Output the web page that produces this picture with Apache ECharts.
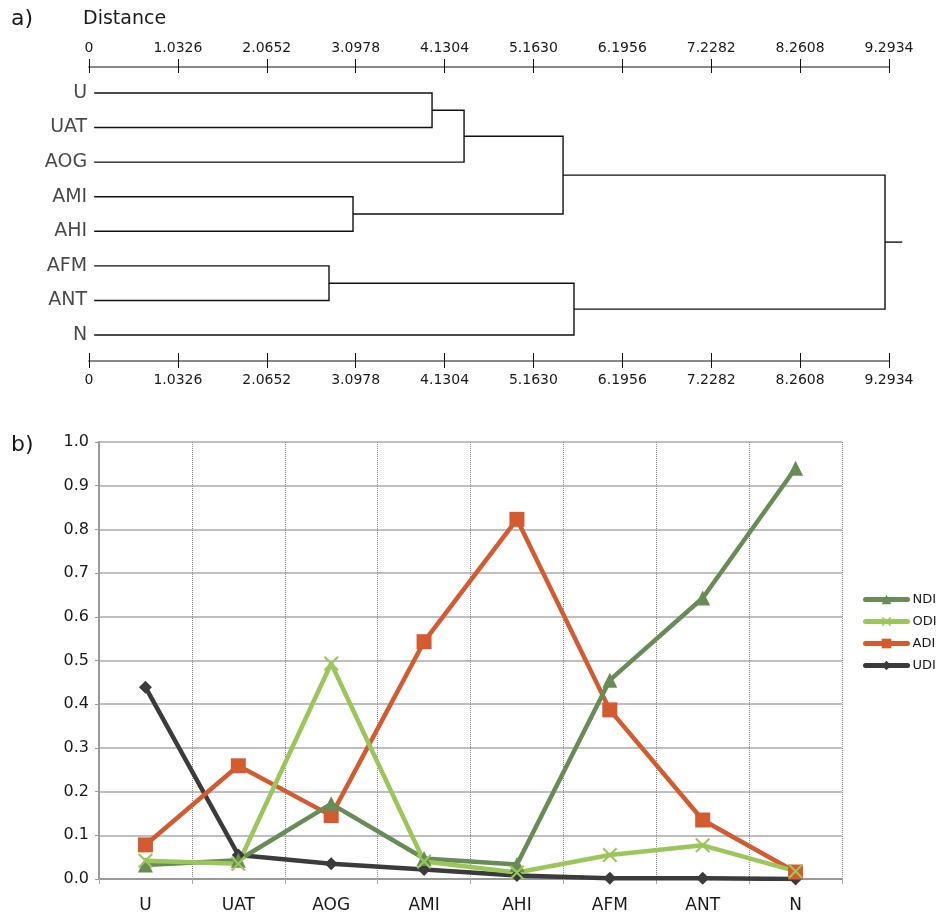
<!DOCTYPE html>
<html>
<head>
<meta charset="utf-8">
<script src="https://cdn.jsdelivr.net/npm/echarts@6/dist/echarts.min.js"></script>
<style>
  html, body { margin:0; padding:0; background:#fff; }
  #chart { width:939px; height:914px; }
</style>
</head>
<body>
<div id="chart"></div>
<script>
// a) dendrogram
const leaves = ['U', 'UAT', 'AOG', 'AMI', 'AHI', 'AFM', 'ANT', 'N'];
// [childA, childB, height]  (mK = result of merge K)
const merges = [
  ['U', 'UAT', 3.985],
  ['m0', 'AOG', 4.357],
  ['AMI', 'AHI', 3.067],
  ['m1', 'm2', 5.507],
  ['AFM', 'ANT', 2.788],
  ['m4', 'N', 5.634],
  ['m3', 'm5', 9.247]
];
const distStep = 1.0326;
const distMax = 9.2934;

// b) index profiles
const categories = ['U', 'UAT', 'AOG', 'AMI', 'AHI', 'AFM', 'ANT', 'N'];
const ndi = [0.032, 0.043, 0.172, 0.047, 0.033, 0.455, 0.643, 0.940];
const odi = [0.042, 0.035, 0.493, 0.040, 0.015, 0.055, 0.077, 0.018];
const adi = [0.078, 0.259, 0.145, 0.543, 0.823, 0.387, 0.135, 0.016];
const udi = [0.439, 0.055, 0.035, 0.022, 0.008, 0.002, 0.002, 0.000];

const LEAF_X = 0.06;     // small gap between labels and leaf lines
const STEM = 0.2;        // root stem length
const txt = '#1a1a1a';
const FONT = 'DejaVu Sans';

// build dendrogram brackets from the merge list
const nodes = {};
leaves.forEach((n, i) => { nodes[n] = { x: LEAF_X, y: i }; });
const brackets = [];
merges.forEach((m, k) => {
  const a = nodes[m[0]], b = nodes[m[1]], h = m[2];
  brackets.push({ coords: [[a.x, a.y], [h, a.y], [h, b.y], [b.x, b.y]] });
  nodes['m' + k] = { x: h, y: (a.y + b.y) / 2 };
});
const root = nodes['m' + (merges.length - 1)];
brackets.push({ coords: [[root.x, root.y], [root.x + STEM, root.y]] });

const distLabel = v => v === 0 ? '0' : v.toFixed(4);
const dendroAxis = (pos, tickIn, len, showLabel) => ({
  type: 'value', gridIndex: tickIn ? 1 : 0, position: pos,
  min: 0, max: distMax, interval: distStep,
  axisLine: { show: !tickIn, onZero: false, lineStyle: { color: '#888', width: 2 } },
  axisTick: { show: true, inside: tickIn, length: len, lineStyle: { color: '#111', width: 1 } },
  axisLabel: { show: showLabel, formatter: distLabel, margin: 12, fontSize: 14, color: txt, fontFamily: FONT },
  splitLine: { show: false }
});

const chart = echarts.init(document.getElementById('chart'));
chart.setOption({
  backgroundColor: '#fff',
  animation: false,
  textStyle: { fontFamily: FONT },
  graphic: [
    { type:'text', left: 11, top: 8, style: { text: 'a)', font: '22px ' + FONT, fill: txt } },
    { type:'text', left: 83, top: 10, style: { text: 'Distance', font: '19px ' + FONT, fill: txt } },
    { type:'text', left: 11, top: 434, style: { text: 'b)', font: '22px ' + FONT, fill: txt } }
  ],
  grid: [
    { left: 89, width: 800, top: 67, height: 294 },
    { left: 89, width: 800, top: 67, height: 294 },
    { left: 99, right: 97, top: 442, bottom: 32 }
  ],
  xAxis: [
    dendroAxis('top', false, 8, true),
    dendroAxis('bottom', false, 7, true),
    dendroAxis('top', true, 6, false),
    dendroAxis('bottom', true, 8, false),
    {
      type: 'category', gridIndex: 2, data: categories, boundaryGap: true,
      axisLine: { lineStyle: { color: '#999', width: 2 } },
      axisTick: { show: true, length: 5, lineStyle: { color: '#aaa' } },
      axisLabel: { fontSize: 17, color: txt, margin: 18, fontFamily: FONT },
      splitLine: { show: true, lineStyle: { color: '#888', type: 'dotted', width: 1 } }
    }
  ],
  yAxis: [
    { type: 'value', gridIndex: 0, inverse: true, min: -0.75, max: 7.75, show: false },
    { type: 'value', gridIndex: 1, inverse: true, min: -0.75, max: 7.75, show: false },
    {
      type: 'value', gridIndex: 2, min: 0, max: 1, interval: 0.1,
      axisLine: { show: true, lineStyle: { color: '#999', width: 2 } },
      axisTick: { show: true, length: 4, lineStyle: { color: '#999' } },
      axisLabel: { formatter: v => v.toFixed(1), fontSize: 16, color: txt, margin: 10, fontFamily: FONT },
      splitLine: { lineStyle: { color: '#aaa', width: 1.5 } }
    }
  ],
  legend: {
    orient: 'vertical', left: 858, top: 588, itemGap: 9, itemWidth: 42, itemHeight: 12,
    lineStyle: { width: 5, cap: 'round' },
    textStyle: { fontSize: 13, color: txt, fontFamily: FONT },
    data: ['NDI', 'ODI', 'ADI', 'UDI']
  },
  series: [
    {
      type: 'lines', coordinateSystem: 'cartesian2d', xAxisIndex: 0, yAxisIndex: 0,
      polyline: true, silent: true, clip: false,
      lineStyle: { color: '#111', width: 1.4, opacity: 1 },
      data: brackets
    },
    {
      type: 'scatter', xAxisIndex: 0, yAxisIndex: 0, symbolSize: 0, silent: true,
      data: leaves.map((n, i) => [LEAF_X, i]),
      label: {
        show: true, position: 'left', distance: 7, fontSize: 19, color: txt, fontFamily: FONT,
        formatter: p => leaves[p.dataIndex]
      }
    },
    {
      name: 'UDI', type: 'line', xAxisIndex: 4, yAxisIndex: 2, data: udi,
      symbol: 'diamond', symbolSize: 13,
      itemStyle: { color: '#3b3b3b' }, lineStyle: { color: '#3b3b3b', width: 4.5 }
    },
    {
      name: 'ADI', type: 'line', xAxisIndex: 4, yAxisIndex: 2, data: adi,
      symbol: 'rect', symbolSize: 15,
      itemStyle: { color: '#d45a2f' }, lineStyle: { color: '#d45a2f', width: 4.5 }
    },
    {
      name: 'NDI', type: 'line', xAxisIndex: 4, yAxisIndex: 2, data: ndi,
      symbol: 'triangle', symbolSize: 15,
      itemStyle: { color: '#678c55' }, lineStyle: { color: '#678c55', width: 4.5 }
    },
    {
      name: 'ODI', type: 'line', xAxisIndex: 4, yAxisIndex: 2, data: odi,
      symbol: 'path://M0,1 L1,0 L5,4 L9,0 L10,1 L6,5 L10,9 L9,10 L5,6 L1,10 L0,9 L4,5 Z',
      symbolSize: 15,
      itemStyle: { color: '#9bc65a' }, lineStyle: { color: '#9bc65a', width: 4.5 }
    }
  ]
});
</script>
</body>
</html>
